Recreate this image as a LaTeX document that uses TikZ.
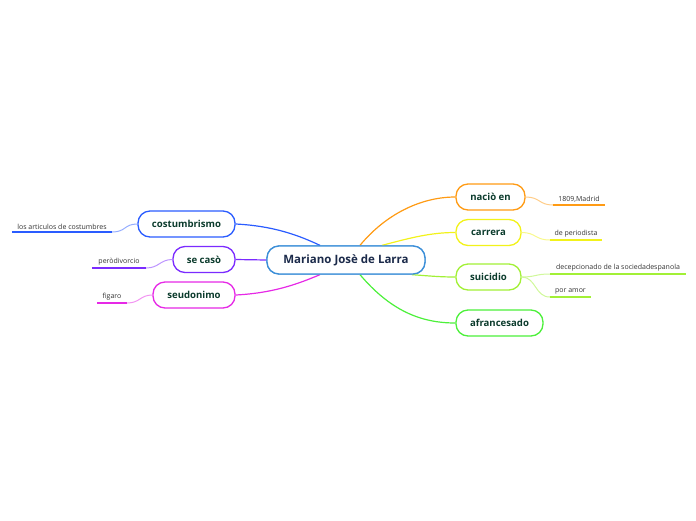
\documentclass[tikz,border=0pt]{standalone}
\usepackage{fontspec}
\setmainfont{Open Sans}
\definecolor{cblue}{HTML}{3C8FD8}
\definecolor{ccost}{HTML}{2A5CFF}
\definecolor{ccaso}{HTML}{7B2BFF}
\definecolor{cseud}{HTML}{E629E6}
\definecolor{cnaci}{HTML}{FF9B14}
\definecolor{ccarr}{HTML}{F2F21A}
\definecolor{csuic}{HTML}{A2F036}
\definecolor{cafra}{HTML}{4CF03A}
\definecolor{ntext}{HTML}{0B3B2C}
\definecolor{ctext}{HTML}{1B2A4A}
\definecolor{ltext}{HTML}{333333}
\tikzset{
  central/.style={draw=cblue, line width=1.3pt, rounded corners=12pt, fill=white,
    minimum height=28pt, minimum width=158pt, text=ctext, font=\fontsize{11.5}{13}\selectfont\bfseries},
  mainnode/.style={draw=#1, line width=1.3pt, rounded corners=12pt, fill=white,
    minimum height=26pt, text=ntext, font=\fontsize{9.6}{11}\selectfont\bfseries, inner xsep=8pt},
  leaf/.style={text=ltext, font=\fontsize{7}{8}\selectfont, inner xsep=4pt, inner ysep=2.5pt, anchor=south},
  uline/.style={draw=#1, line width=1.8pt},
  conn/.style={draw=#1, line width=1.2pt},
  lconn/.style={draw=#1!50, line width=1pt},
}
\begin{document}
\begin{tikzpicture}[x=1pt,y=-1pt]
\useasboundingbox (0,0) rectangle (696,520);
% central
\node[central] (c) at (346,260) {Mariano Josè de Larra};
% left main nodes
\node[mainnode=ccost, minimum width=97pt] (cost) at (186.5,224) {costumbrismo};
\node[mainnode=ccaso, minimum width=62pt] (caso) at (204,259.5) {se casò};
\node[mainnode=cseud, minimum width=82pt] (seud) at (194,295) {seudonimo};
% right main nodes
\node[mainnode=cnaci, minimum width=69pt] (naci) at (490.5,197) {naciò en};
\node[mainnode=ccarr, minimum width=65pt] (carr) at (488.5,232.5) {carrera};
\node[mainnode=csuic, minimum width=65pt] (suic) at (488.5,277) {suicidio};
\node[mainnode=cafra, minimum width=87pt] (afra) at (499.5,323) {afrancesado};
% leaves
\node[leaf, minimum width=100pt] (l1) at (62,232) {los articulos de costumbres};
\node[leaf, minimum width=54pt] (l2) at (119,268) {peròdivorcio};
\node[leaf, minimum width=30pt] (l3) at (112,303) {figaro};
\node[leaf, minimum width=52pt] (r1) at (579,205) {1809,Madrid};
\node[leaf, minimum width=52pt] (r2) at (576,240) {de periodista};
\node[leaf, minimum width=136pt] (r3) at (618,274) {decepcionado de la sociedadespanola};
\node[leaf, minimum width=41pt] (r4) at (570.5,297) {por amor};
% underlines
\draw[uline=ccost] (l1.south west) -- (l1.south east);
\draw[uline=ccaso] (l2.south west) -- (l2.south east);
\draw[uline=cseud] (l3.south west) -- (l3.south east);
\draw[uline=cnaci] (r1.south west) -- (r1.south east);
\draw[uline=ccarr] (r2.south west) -- (r2.south east);
\draw[uline=csuic] (r3.south west) -- (r3.south east);
\draw[uline=csuic] (r4.south west) -- (r4.south east);
% main connectors
\draw[conn=ccost] (cost.east) .. controls (275,226) and (300,236) .. ([xshift=-26pt]c.north);
\draw[conn=ccaso] (caso.east) -- (c.west);
\draw[conn=cseud] (seud.east) .. controls (275,293) and (300,283) .. ([xshift=-26pt]c.south);
\draw[conn=cnaci] ([xshift=14pt]c.north) .. controls (385,215) and (420,197) .. (naci.west);
\draw[conn=ccarr] ([xshift=36pt]c.north) .. controls (410,238) and (430,232.5) .. (carr.west);
\draw[conn=csuic] ([xshift=66pt]c.south) .. controls (430,276) and (440,277) .. (suic.west);
\draw[conn=cafra] ([xshift=14pt]c.south) .. controls (390,310) and (420,323) .. (afra.west);
% leaf connectors
\draw[lconn=ccost] (cost.west) .. controls (124,224) and (126,232) .. (l1.south east);
\draw[lconn=ccaso] (caso.west) .. controls (160,259.5) and (159,268) .. (l2.south east);
\draw[lconn=cseud] (seud.west) .. controls (140,295) and (140,303) .. (l3.south east);
\draw[lconn=cnaci] (naci.east) .. controls (540,197) and (539,205) .. (r1.south west);
\draw[lconn=ccarr] (carr.east) .. controls (536,232.5) and (535,240) .. (r2.south west);
\draw[lconn=csuic] (suic.east) .. controls (536,277) and (535,274) .. (r3.south west);
\draw[lconn=csuic] (suic.east) .. controls (536,277) and (535,297) .. (r4.south west);
% redraw central on top of connector ends
\node[central] at (c) {Mariano Josè de Larra};
\end{tikzpicture}
\end{document}
